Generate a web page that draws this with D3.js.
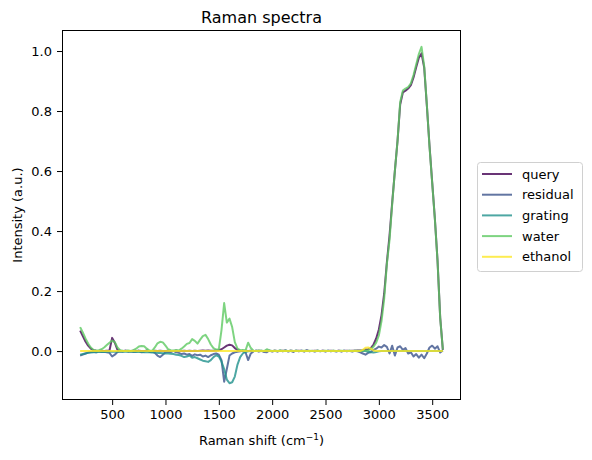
<!DOCTYPE html>
<html>
<head>
<meta charset="utf-8">
<script src="https://cdn.jsdelivr.net/npm/d3@7"></script>
<style>
    body { margin: 0; background: #fff; }
    text { font-family: "DejaVu Sans", sans-serif; fill: #000; }
</style>
</head>
<body>
<div id="chart"></div>
<script>
// Raman spectra - query fitted by grating + water + ethanol references

// Raman shift grid (cm-1), one sample every 25 cm-1 from 200 to 3600
const shift = d3.range(200, 3601, 25);

const series_names = ["query", "residual", "grating", "water", "ethanol"];
const series_colors = ["#440154", "#3b528b", "#21918c", "#5ec962", "#fde725"];

const x_ticks = [500, 1000, 1500, 2000, 2500, 3000, 3500];
const y_ticks = [0.0, 0.2, 0.4, 0.6, 0.8, 1.0];

const query = [
    0.068, 0.050, 0.032, 0.018, 0.008, 0.003, 0.001, 0.000, 0.001, 0.000,
    0.001, 0.002, 0.044, 0.028, 0.004, 0.001, 0.000, 0.001, 0.000, 0.000,
    0.001, 0.000, 0.001, 0.000, 0.000, 0.001, 0.000, 0.000, 0.001, 0.000,
    0.001, 0.000, 0.000, 0.001, 0.000, 0.000, 0.001, 0.000, 0.000, 0.001,
    0.000, 0.001, 0.000, 0.001, 0.000, 0.001, 0.002, 0.001, 0.002, 0.001,
    0.001, 0.002, 0.003, 0.006, 0.012, 0.018, 0.021, 0.019, 0.010, 0.004,
    0.001, 0.000, 0.001, 0.000, 0.001, 0.000, 0.000, 0.001, 0.000, 0.000,
    0.001, 0.000, 0.000, 0.001, 0.000, 0.000, 0.001, 0.000, 0.000, 0.001,
    0.000, 0.000, 0.001, 0.000, 0.000, 0.001, 0.000, 0.000, 0.001, 0.000,
    0.000, 0.001, 0.000, 0.000, 0.001, 0.000, 0.000, 0.001, 0.000, 0.000,
    0.001, 0.000, 0.001, 0.001, 0.002, 0.002, 0.003, 0.005, 0.006, 0.010,
    0.022, 0.042, 0.072, 0.120, 0.192, 0.295, 0.385, 0.495, 0.600, 0.700,
    0.822, 0.862, 0.868, 0.875, 0.886, 0.912, 0.946, 0.978, 0.992, 0.945,
    0.818, 0.684, 0.562, 0.442, 0.302, 0.112, 0.004
];

const residual = [
    -0.015, -0.012, -0.008, -0.005, -0.003, -0.002, -0.004, -0.001, -0.003, -0.002,
    -0.004, -0.006, -0.018, -0.012, -0.003, -0.001, -0.002, 0.001, -0.002, -0.001,
    -0.003, -0.002, 0.001, -0.004, -0.002, 0.002, -0.003, -0.002, -0.006, -0.015,
    -0.020, -0.012, -0.004, -0.002, -0.003, 0.001, -0.004, -0.006, -0.010, -0.008,
    -0.012, -0.010, -0.016, -0.011, -0.014, -0.012, -0.018, -0.015, -0.020, -0.014,
    -0.010, -0.008, -0.012, -0.030, -0.102, -0.060, -0.015, -0.008, -0.004, -0.002,
    -0.001, 0.001, -0.004, -0.030, -0.008, -0.001, 0.002, -0.002, 0.001, -0.003,
    -0.004, 0.002, -0.002, 0.001, -0.002, 0.002, -0.001, 0.003, -0.002, 0.001,
    -0.003, 0.002, -0.001, 0.002, -0.002, 0.003, -0.001, 0.001, -0.002, 0.002,
    -0.001, 0.001, -0.002, 0.002, -0.001, 0.001, -0.002, 0.001, -0.002, 0.002,
    -0.001, 0.001, -0.002, 0.001, -0.001, -0.004, -0.008, -0.012, -0.006, -0.003,
    0.004, 0.008, 0.015, 0.012, 0.020, 0.014, -0.008, 0.018, -0.015, 0.012,
    0.016, 0.004, 0.010, -0.008, -0.004, -0.018, -0.010, -0.022, -0.012, -0.024,
    -0.008, 0.012, 0.018, 0.008, 0.016, -0.005, 0.002
];

const grating = [
    -0.012, -0.010, -0.008, -0.006, -0.005, -0.004, -0.004, -0.003, -0.003, -0.003,
    -0.002, -0.002, -0.002, -0.002, -0.002, -0.002, -0.002, -0.002, -0.002, -0.002,
    -0.002, -0.003, -0.003, -0.003, -0.004, -0.004, -0.004, -0.005, -0.005, -0.006,
    -0.006, -0.007, -0.008, -0.008, -0.009, -0.010, -0.012, -0.013, -0.016, -0.020,
    -0.018, -0.015, -0.022, -0.020, -0.024, -0.028, -0.032, -0.034, -0.036, -0.030,
    -0.020, -0.014, -0.018, -0.035, -0.060, -0.095, -0.107, -0.104, -0.085, -0.045,
    -0.020, -0.008, -0.003, -0.001, 0.000, 0.000, 0.000, 0.000, 0.000, 0.000,
    0.000, 0.000, 0.000, 0.000, 0.000, 0.000, 0.000, 0.000, 0.000, 0.000,
    0.000, 0.000, 0.000, 0.000, 0.000, 0.000, 0.000, 0.000, 0.000, 0.000,
    0.000, 0.000, 0.000, 0.000, 0.000, 0.000, 0.000, 0.000, 0.000, 0.000,
    0.000, 0.000, 0.000, 0.000, 0.000, 0.000, 0.000, 0.000, -0.002, -0.004,
    -0.005, -0.003, -0.001, 0.000, 0.000, 0.000, 0.000, 0.000, 0.000, 0.000,
    0.000, 0.000, 0.000, 0.000, 0.000, 0.000, 0.000, 0.000, 0.000, 0.000,
    0.000, 0.000, 0.000, 0.000, 0.000, 0.000, 0.000
];

const water = [
    0.080, 0.062, 0.042, 0.025, 0.012, 0.004, 0.002, 0.003, 0.006, 0.012,
    0.020, 0.028, 0.035, 0.030, 0.012, 0.003, 0.001, 0.000, 0.002, 0.000,
    0.003, 0.008, 0.015, 0.017, 0.016, 0.008, 0.002, 0.001, 0.012, 0.026,
    0.031, 0.029, 0.018, 0.006, 0.003, 0.001, 0.004, 0.002, 0.008, 0.015,
    0.024, 0.027, 0.040, 0.034, 0.025, 0.038, 0.050, 0.054, 0.040, 0.022,
    0.010, 0.005, 0.006, 0.070, 0.160, 0.095, 0.108, 0.080, 0.030, 0.008,
    0.003, 0.004, 0.002, 0.028, 0.010, 0.001, 0.000, 0.002, 0.001, 0.000,
    0.006, 0.002, 0.000, 0.001, 0.000, 0.002, 0.000, 0.001, 0.000, 0.001,
    0.000, 0.001, 0.000, 0.000, 0.001, 0.000, 0.001, 0.000, 0.000, 0.001,
    0.000, 0.000, 0.001, 0.000, 0.000, 0.001, 0.000, 0.000, 0.001, 0.000,
    0.000, 0.001, 0.000, 0.001, 0.001, 0.001, 0.002, 0.002, 0.003, 0.006,
    0.015, 0.028, 0.052, 0.100, 0.175, 0.290, 0.370, 0.490, 0.600, 0.700,
    0.830, 0.868, 0.875, 0.880, 0.892, 0.920, 0.955, 0.990, 1.014, 0.950,
    0.820, 0.680, 0.560, 0.440, 0.300, 0.110, 0.005
];

const ethanol = [
    0.000, 0.000, 0.000, 0.000, 0.000, 0.000, 0.000, 0.000, 0.000, 0.000,
    0.000, 0.000, 0.000, 0.000, 0.000, 0.000, 0.000, 0.000, 0.000, 0.000,
    0.000, 0.000, 0.000, 0.000, 0.000, 0.000, 0.000, 0.000, 0.000, 0.000,
    0.000, 0.000, 0.000, 0.000, 0.000, 0.000, 0.000, 0.000, 0.000, 0.000,
    0.000, 0.000, 0.000, 0.000, 0.000, 0.000, 0.000, 0.000, 0.000, 0.000,
    0.000, 0.000, 0.000, 0.000, 0.000, 0.000, 0.000, 0.000, 0.000, 0.000,
    0.000, 0.000, 0.000, 0.000, 0.000, 0.000, 0.000, 0.000, 0.000, 0.000,
    0.000, 0.000, 0.000, 0.000, 0.000, 0.000, 0.000, 0.000, 0.000, 0.000,
    0.000, 0.000, 0.000, 0.000, 0.000, 0.000, 0.000, 0.000, 0.000, 0.000,
    0.000, 0.000, 0.000, 0.000, 0.000, 0.000, 0.000, 0.000, 0.000, 0.000,
    0.000, 0.000, 0.000, 0.000, 0.000, 0.000, 0.004, 0.011, 0.012, 0.008,
    0.002, 0.000, 0.000, 0.000, 0.000, 0.000, 0.000, 0.000, 0.000, 0.000,
    0.000, 0.000, 0.000, 0.000, 0.000, 0.000, 0.000, 0.000, 0.000, 0.000,
    0.000, 0.000, 0.000, 0.000, 0.000, 0.000, 0.000
];

const series_values = [query, residual, grating, water, ethanol];

const w = 592;
const h = 460;
const margin = { top: 30, right: 131, bottom: 60, left: 62 };

const series = series_names.map((name, i) => ({
    name,
    color: series_colors[i],
    points: shift.map((s, j) => ({ x: s, y: series_values[i][j] }))
}));

// matplotlib-style 5% padding around the data
const x_ext = d3.extent(shift);
const y_ext = d3.extent(series_values.flat());
const x_pad = (x_ext[1] - x_ext[0]) * 0.05;
const y_pad = (y_ext[1] - y_ext[0]) * 0.05;

const x_scale = d3.scaleLinear()
    .domain([x_ext[0] - x_pad, x_ext[1] + x_pad])
    .range([margin.left, w - margin.right]);
const y_scale = d3.scaleLinear()
    .domain([y_ext[0] - y_pad, y_ext[1] + y_pad])
    .range([h - margin.bottom, margin.top]);

const svg = d3.select("#chart").append("svg")
    .attr("width", w)
    .attr("height", h)
    .style("display", "block");

svg.append("clipPath").attr("id", "plot-clip")
    .append("rect")
    .attr("x", margin.left)
    .attr("y", margin.top)
    .attr("width", w - margin.left - margin.right)
    .attr("height", h - margin.top - margin.bottom);

const line = d3.line()
    .x(d => x_scale(d.x))
    .y(d => y_scale(d.y));

svg.append("g")
    .attr("clip-path", "url(#plot-clip)")
    .selectAll("path")
    .data(series)
    .join("path")
    .attr("d", d => line(d.points))
    .attr("fill", "none")
    .attr("stroke", d => d.color)
    .attr("stroke-opacity", 0.8)
    .attr("stroke-width", 2)
    .attr("stroke-linejoin", "round");

// axes
const x_axis = svg.append("g")
    .attr("transform", `translate(0,${h - margin.bottom})`)
    .call(d3.axisBottom(x_scale).tickValues(x_ticks).tickSize(5).tickPadding(5).tickFormat(d3.format("d")));
const y_axis = svg.append("g")
    .attr("transform", `translate(${margin.left},0)`)
    .call(d3.axisLeft(y_scale).tickValues(y_ticks).tickSize(5).tickPadding(5).tickFormat(d3.format(".1f")));

[x_axis, y_axis].forEach(a => {
    a.select(".domain").remove();
    a.selectAll(".tick line").attr("stroke", "#000").attr("stroke-width", 1);
    a.selectAll(".tick text")
        .style("font-family", "DejaVu Sans, sans-serif")
        .style("font-size", "13px")
        .attr("fill", "#000");
});

svg.append("rect")
    .attr("x", margin.left + 0.5)
    .attr("y", margin.top + 0.5)
    .attr("width", w - margin.left - margin.right - 1)
    .attr("height", h - margin.top - margin.bottom - 1)
    .attr("fill", "none")
    .attr("stroke", "#000")
    .attr("stroke-width", 1);

// title and axis labels
svg.append("text")
    .attr("x", (margin.left + w - margin.right) / 2)
    .attr("y", 23)
    .attr("text-anchor", "middle")
    .style("font-size", "16px")
    .text("Raman spectra");

const x_label = svg.append("text")
    .attr("x", (margin.left + w - margin.right) / 2)
    .attr("y", 445)
    .attr("text-anchor", "middle")
    .style("font-size", "13px");
x_label.append("tspan").text("Raman shift (cm");
x_label.append("tspan").attr("dy", -5).style("font-size", "9px").text("\u22121");
x_label.append("tspan").attr("dy", 5).text(")");

svg.append("text")
    .attr("transform", `translate(22,${(margin.top + h - margin.bottom) / 2}) rotate(-90)`)
    .attr("text-anchor", "middle")
    .style("font-size", "13px")
    .text("Intensity (a.u.)");

// legend
const legend = svg.append("g").attr("transform", "translate(477.5,162.5)");

legend.append("rect")
    .attr("width", 105)
    .attr("height", 109)
    .attr("rx", 3)
    .attr("fill", "#fff")
    .attr("stroke", "#d0d0d0")
    .attr("stroke-width", 1);

const legend_rows = legend.selectAll("g.row")
    .data(series)
    .join("g")
    .attr("class", "row")
    .attr("transform", (d, i) => `translate(0,${11.5 + i * 20.7})`);

legend_rows.append("line")
    .attr("x1", 4.5).attr("x2", 34.5)
    .attr("stroke", d => d.color)
    .attr("stroke-opacity", 0.8)
    .attr("stroke-width", 2);

legend_rows.append("text")
    .attr("x", 44.5)
    .attr("y", 4.5)
    .style("font-size", "13px")
    .text(d => d.name);
</script>
</body>
</html>
